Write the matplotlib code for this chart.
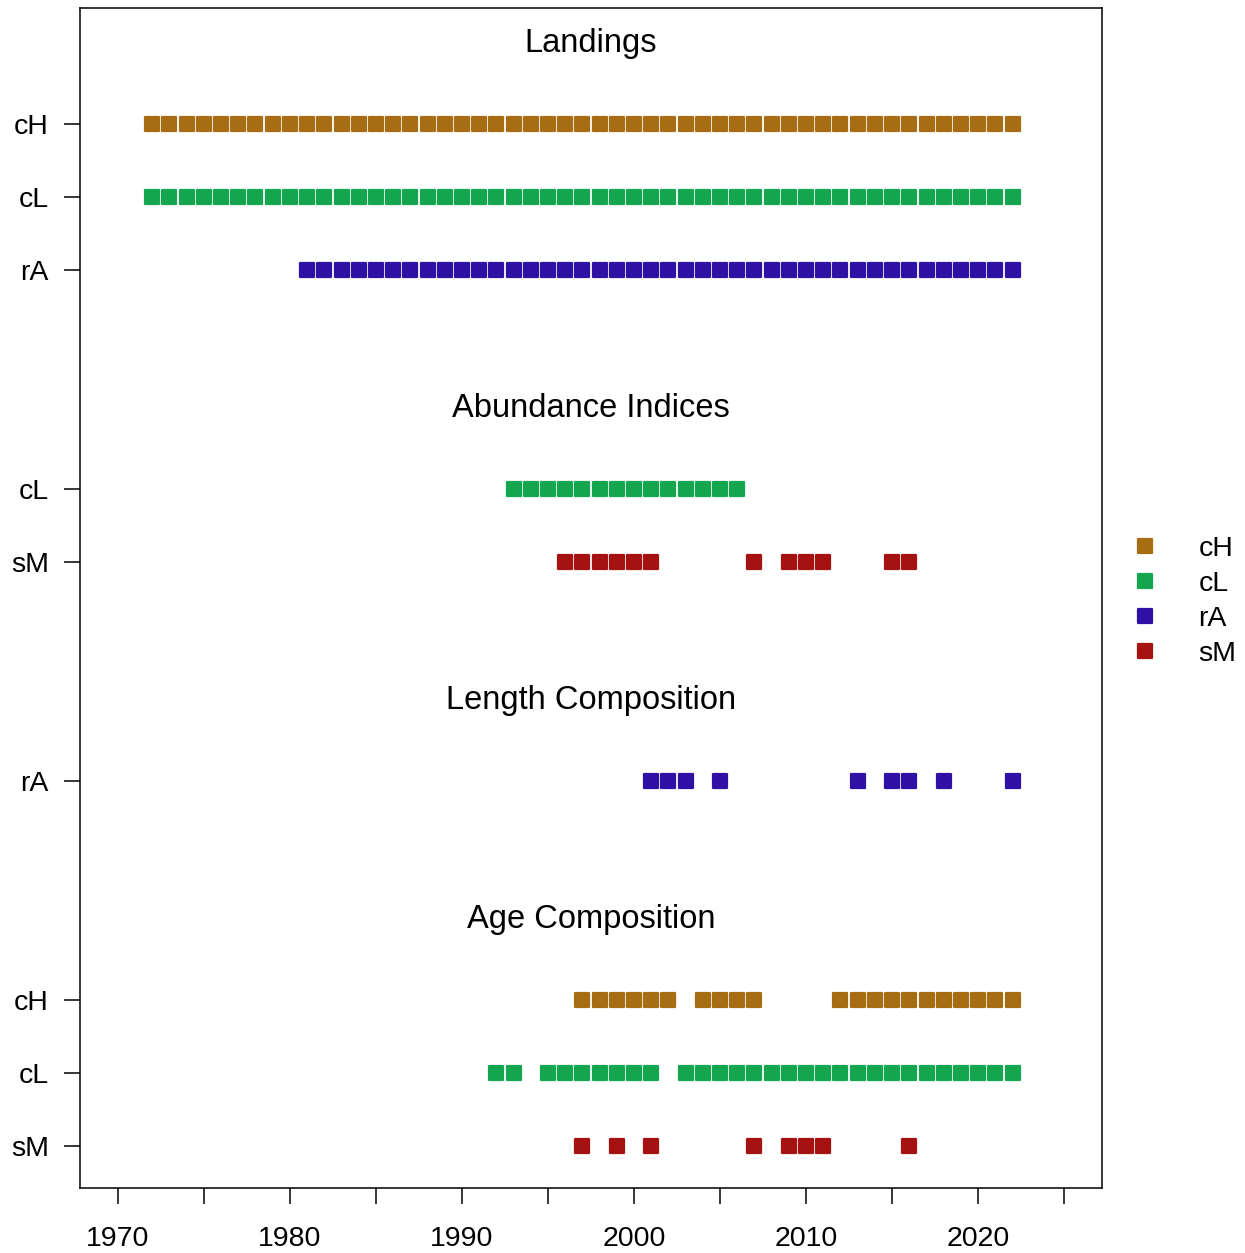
import matplotlib
matplotlib.use("Agg")
import matplotlib.pyplot as plt
from matplotlib.markers import MarkerStyle
from matplotlib.lines import Line2D

plt.rcParams['font.family'] = ['Liberation Sans', 'DejaVu Sans']

# ---- data ----
section_titles = ["Landings", "Abundance Indices", "Length Composition", "Age Composition"]
series_colors = {"cH": "#A66D12", "cL": "#13A64E", "rA": "#3011A6", "sM": "#A61212"}

landings_cH = [1972, 1973, 1974, 1975, 1976, 1977, 1978, 1979, 1980, 1981, 1982, 1983, 1984,
               1985, 1986, 1987, 1988, 1989, 1990, 1991, 1992, 1993, 1994, 1995, 1996, 1997,
               1998, 1999, 2000, 2001, 2002, 2003, 2004, 2005, 2006, 2007, 2008, 2009, 2010,
               2011, 2012, 2013, 2014, 2015, 2016, 2017, 2018, 2019, 2020, 2021, 2022]
landings_cL = [1972, 1973, 1974, 1975, 1976, 1977, 1978, 1979, 1980, 1981, 1982, 1983, 1984,
               1985, 1986, 1987, 1988, 1989, 1990, 1991, 1992, 1993, 1994, 1995, 1996, 1997,
               1998, 1999, 2000, 2001, 2002, 2003, 2004, 2005, 2006, 2007, 2008, 2009, 2010,
               2011, 2012, 2013, 2014, 2015, 2016, 2017, 2018, 2019, 2020, 2021, 2022]
landings_rA = [1981, 1982, 1983, 1984, 1985, 1986, 1987, 1988, 1989, 1990, 1991, 1992, 1993,
               1994, 1995, 1996, 1997, 1998, 1999, 2000, 2001, 2002, 2003, 2004, 2005, 2006,
               2007, 2008, 2009, 2010, 2011, 2012, 2013, 2014, 2015, 2016, 2017, 2018, 2019,
               2020, 2021, 2022]

index_cL = [1993, 1994, 1995, 1996, 1997, 1998, 1999, 2000, 2001, 2002, 2003, 2004, 2005, 2006]
index_sM = [1996, 1997, 1998, 1999, 2000, 2001, 2007, 2009, 2010, 2011, 2015, 2016]

lencomp_rA = [2001, 2002, 2003, 2005, 2013, 2015, 2016, 2018, 2022]

agecomp_cH = [1997, 1998, 1999, 2000, 2001, 2002, 2004, 2005, 2006, 2007,
              2012, 2013, 2014, 2015, 2016, 2017, 2018, 2019, 2020, 2021, 2022]
agecomp_cL = [1992, 1993, 1995, 1996, 1997, 1998, 1999, 2000, 2001,
              2003, 2004, 2005, 2006, 2007, 2008, 2009, 2010, 2011, 2012, 2013,
              2014, 2015, 2016, 2017, 2018, 2019, 2020, 2021, 2022]
agecomp_sM = [1997, 1999, 2001, 2007, 2009, 2010, 2011, 2016]

x_ticks = [1970, 1975, 1980, 1985, 1990, 1995, 2000, 2005, 2010, 2015, 2020, 2025]
x_ticklabels = ["1970", "", "1980", "", "1990", "", "2000", "", "2010", "", "2020", ""]

sections = [
    (section_titles[0], [("cH", landings_cH), ("cL", landings_cL), ("rA", landings_rA)]),
    (section_titles[1], [("cL", index_cL), ("sM", index_sM)]),
    (section_titles[2], [("rA", lencomp_rA)]),
    (section_titles[3], [("cH", agecomp_cH), ("cL", agecomp_cL), ("sM", agecomp_sM)]),
]

# ---- plot ----
W, H = 1245, 1253
fig = plt.figure(figsize=(W / 100, H / 100), dpi=100)
ax = fig.add_axes([80 / W, 1 - 1188 / H, (1102 - 80) / W, (1188 - 8) / H])

marker = MarkerStyle('s', joinstyle='round')
ytick_pos, ytick_lab = [], []
row = 0.0
for title, series in sections:
    ax.text(1997.5, row - 1.1, title, ha='center', va='center', fontsize=23.5)
    for name, years in series:
        ax.plot(years, [row] * len(years), linestyle='none', marker=marker,
                markersize=9.5, markeredgewidth=1.6,
                color=series_colors[name], markeredgecolor=series_colors[name])
        ytick_pos.append(row)
        ytick_lab.append(name)
        row += 1
    row += 2

ax.set_xlim(1967.8, 2027.2)
ax.set_ylim(14.58, -1.59)
ax.set_xticks(x_ticks)
ax.set_xticklabels(x_ticklabels)
ax.set_yticks(ytick_pos)
ax.set_yticklabels(ytick_lab)
ax.tick_params(axis='both', length=11.5, width=1.1, labelsize=20.5, color='black')
ax.tick_params(axis='x', pad=16)
ax.tick_params(axis='y', pad=11)
for s in ax.spines.values():
    s.set_linewidth(1.1)

handles = [Line2D([], [], linestyle='none', marker=marker, markersize=9.5,
                  markeredgewidth=1.6, color=c, markeredgecolor=c)
           for c in series_colors.values()]
fig.legend(handles, list(series_colors.keys()), loc='center left',
           bbox_to_anchor=(1131 / W, 1 - 601.5 / H), bbox_transform=fig.transFigure,
           frameon=False, fontsize=20.5, handlelength=1.0,
           handletextpad=1.37, labelspacing=0.31, borderaxespad=0, borderpad=0)

fig.savefig("out.png", dpi=100)
